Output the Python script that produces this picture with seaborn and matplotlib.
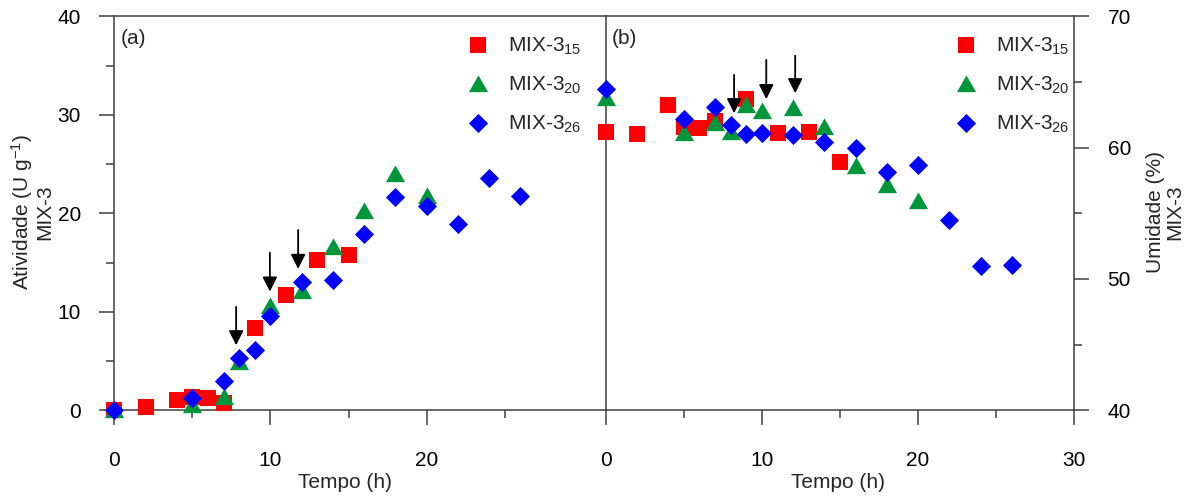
import numpy as np
import pandas as pd
import matplotlib
matplotlib.use("Agg")
import matplotlib.pyplot as plt
import seaborn as sns

# ---------------- data ----------------
# (a) Atividade (U g-1)
a15_t = [0, 2, 4, 5, 6, 7, 9, 11, 13, 15]
a15_y = [0, 0.3, 1.05, 1.3, 1.25, 0.7, 8.4, 11.7, 15.3, 15.8]
a20_t = [0, 5, 7, 8, 10, 12, 14, 16, 18, 20]
a20_y = [0, 0.5, 1.3, 4.9, 10.6, 12.1, 16.6, 20.2, 24.0, 21.8]
a26_t = [0, 5, 7, 8, 9, 10, 12, 14, 16, 18, 20, 22, 24, 26]
a26_y = [0, 1.2, 3.0, 5.35, 6.1, 9.6, 13.0, 13.2, 17.9, 21.7, 20.7, 18.9, 23.6, 21.8]

# (b) Umidade (%)
b15_t = [0, 2, 4, 5, 6, 7, 9, 11, 13, 15]
b15_y = [61.2, 61.0, 63.25, 61.6, 61.5, 62.05, 63.7, 61.1, 61.2, 58.9]
b20_t = [0, 5, 7, 8, 9, 10, 12, 14, 16, 18, 20]
b20_y = [63.8, 61.15, 61.9, 61.2, 63.25, 62.8, 63.0, 61.6, 58.6, 57.15, 55.95]
b26_t = [0, 5, 7, 8, 9, 10, 12, 14, 16, 18, 20, 22, 24, 26]
b26_y = [64.45, 62.15, 63.1, 61.75, 61.0, 61.1, 60.95, 60.4, 59.95, 58.15, 58.7, 54.5, 50.95, 51.05]

labels = ["MIX-3$_{15}$", "MIX-3$_{20}$", "MIX-3$_{26}$"]
colors = ["#FF0000", "#00963C", "#0000FF"]

# arrows (x, tail y, tip y)
arr_a_x = [7.8, 9.96, 11.77]
arr_a_tail = [10.5, 16.0, 18.3]
arr_a_tip = [6.6, 12.05, 14.35]
arr_b_x = [8.22, 10.28, 12.13]
arr_b_tail = [65.54, 66.68, 67.0]
arr_b_tip = [62.62, 63.69, 64.14]

# ---------------- style ----------------
sns.set_style("ticks")
plt.rcParams["font.family"] = ["Liberation Sans", "DejaVu Sans"]
plt.rcParams["mathtext.fontset"] = "custom"
plt.rcParams["mathtext.rm"] = "Liberation Sans"
plt.rcParams["mathtext.it"] = "Liberation Sans:italic"
plt.rcParams["mathtext.bf"] = "Liberation Sans:bold"

W, H = 1197, 497
fig = plt.figure(figsize=(W / 100, H / 100), dpi=100)
x0, xm, x1 = 114.3, 605.7, 1074.3
ytop, ybot = 16.3, 410.3
ax1 = fig.add_axes([x0 / W, 1 - ybot / H, (xm - x0) / W, (ybot - ytop) / H])
ax2 = fig.add_axes([xm / W, 1 - ybot / H, (x1 - xm) / W, (ybot - ytop) / H])

tri = [(-1, -0.8), (1, -0.8), (0, 0.95)]
mk = ["s", tri, "D"]
sz = [135, 190, 95]

FS = 15
spine_c = "#404040"

def draw(ax, series):
    for i, (t, y) in enumerate(series):
        df = pd.DataFrame({"t": t, "y": y})
        sns.scatterplot(data=df, x="t", y="y", ax=ax, marker=mk[i], color=colors[i],
                        s=sz[i], linewidth=0, label=labels[i], clip_on=False,
                        zorder=3 + i * 0.1)

draw(ax1, [(a15_t, a15_y), (a20_t, a20_y), (a26_t, a26_y)])
draw(ax2, [(b15_t, b15_y), (b20_t, b20_y), (b26_t, b26_y)])

# axes 1
ax1.set_xlim(0, 31.46)
ax1.set_ylim(0, 40)
ax1.set_xticks([0, 10, 20])
ax1.set_xticks([5, 15, 25], minor=True)
ax1.set_yticks([0, 10, 20, 30, 40])
ax1.set_yticks([5, 15, 25, 35], minor=True)
ax1.spines["right"].set_visible(False)

# axes 2
ax2.set_xlim(0, 30)
ax2.set_ylim(40, 70)
ax2.set_xticks([0, 10, 20, 30])
ax2.set_xticks([5, 15, 25], minor=True)
ax2.yaxis.tick_right()
ax2.set_yticks([40, 50, 60, 70])
ax2.set_yticks([45, 55, 65], minor=True)
ax2.tick_params(axis="y", which="both", left=False, right=True)

for ax in (ax1, ax2):
    for sp in ax.spines.values():
        sp.set_color(spine_c)
        sp.set_linewidth(1.1)
    ax.tick_params(which="major", direction="out", length=11, width=1.1,
                   color=spine_c, labelsize=FS, labelcolor="black")
    ax.tick_params(axis="x", which="major", pad=18)
    ax.tick_params(axis="y", which="major", pad=13)
    ax.tick_params(which="minor", direction="out", length=6, width=1.1, color=spine_c)
    ax.set_ylabel("")
    ax.set_xlabel("Tempo (h)", fontsize=FS)

ax1.xaxis.set_label_coords((345 - x0) / (xm - x0), -0.16)
ax2.xaxis.set_label_coords(0.495, -0.16)

# arrows
for x, t0, t1 in zip(arr_a_x, arr_a_tail, arr_a_tip):
    ax1.annotate("", xy=(x, t1), xytext=(x, t0),
                 arrowprops=dict(arrowstyle="-|>", color="black", lw=1.3,
                                 mutation_scale=22, shrinkA=0, shrinkB=0), zorder=5)
for x, t0, t1 in zip(arr_b_x, arr_b_tail, arr_b_tip):
    ax2.annotate("", xy=(x, t1), xytext=(x, t0),
                 arrowprops=dict(arrowstyle="-|>", color="black", lw=1.3,
                                 mutation_scale=22, shrinkA=0, shrinkB=0), zorder=5)

# panel letters
ax1.text(121 / W, 1 - 38 / H, "(a)", transform=fig.transFigure, fontsize=FS, va="center", ha="left")
ax2.text(612 / W, 1 - 38 / H, "(b)", transform=fig.transFigure, fontsize=FS, va="center", ha="left")

# legends
for ax, lx in ((ax1, 468), (ax2, 956)):
    ax.legend(loc="upper left", bbox_to_anchor=(lx / W, 1 - 36 / H), bbox_transform=fig.transFigure,
              frameon=False, handlelength=0.95, handletextpad=0.95, labelspacing=0.85,
              borderpad=0, borderaxespad=0, fontsize=FS, scatteryoffsets=[0.5])

# y labels
fig.text(32 / W, 1 - 212 / H, "Atividade (U g$^{-1}$)\nMIX-3", rotation=90, ha="center",
         va="center", multialignment="center", fontsize=FS, linespacing=1.0)
fig.text(1165 / W, 1 - 212 / H, "Umidade (%)\nMIX-3", rotation=90, ha="center",
         va="center", multialignment="center", fontsize=FS, linespacing=1.0)

fig.savefig("out.png", dpi=100)
